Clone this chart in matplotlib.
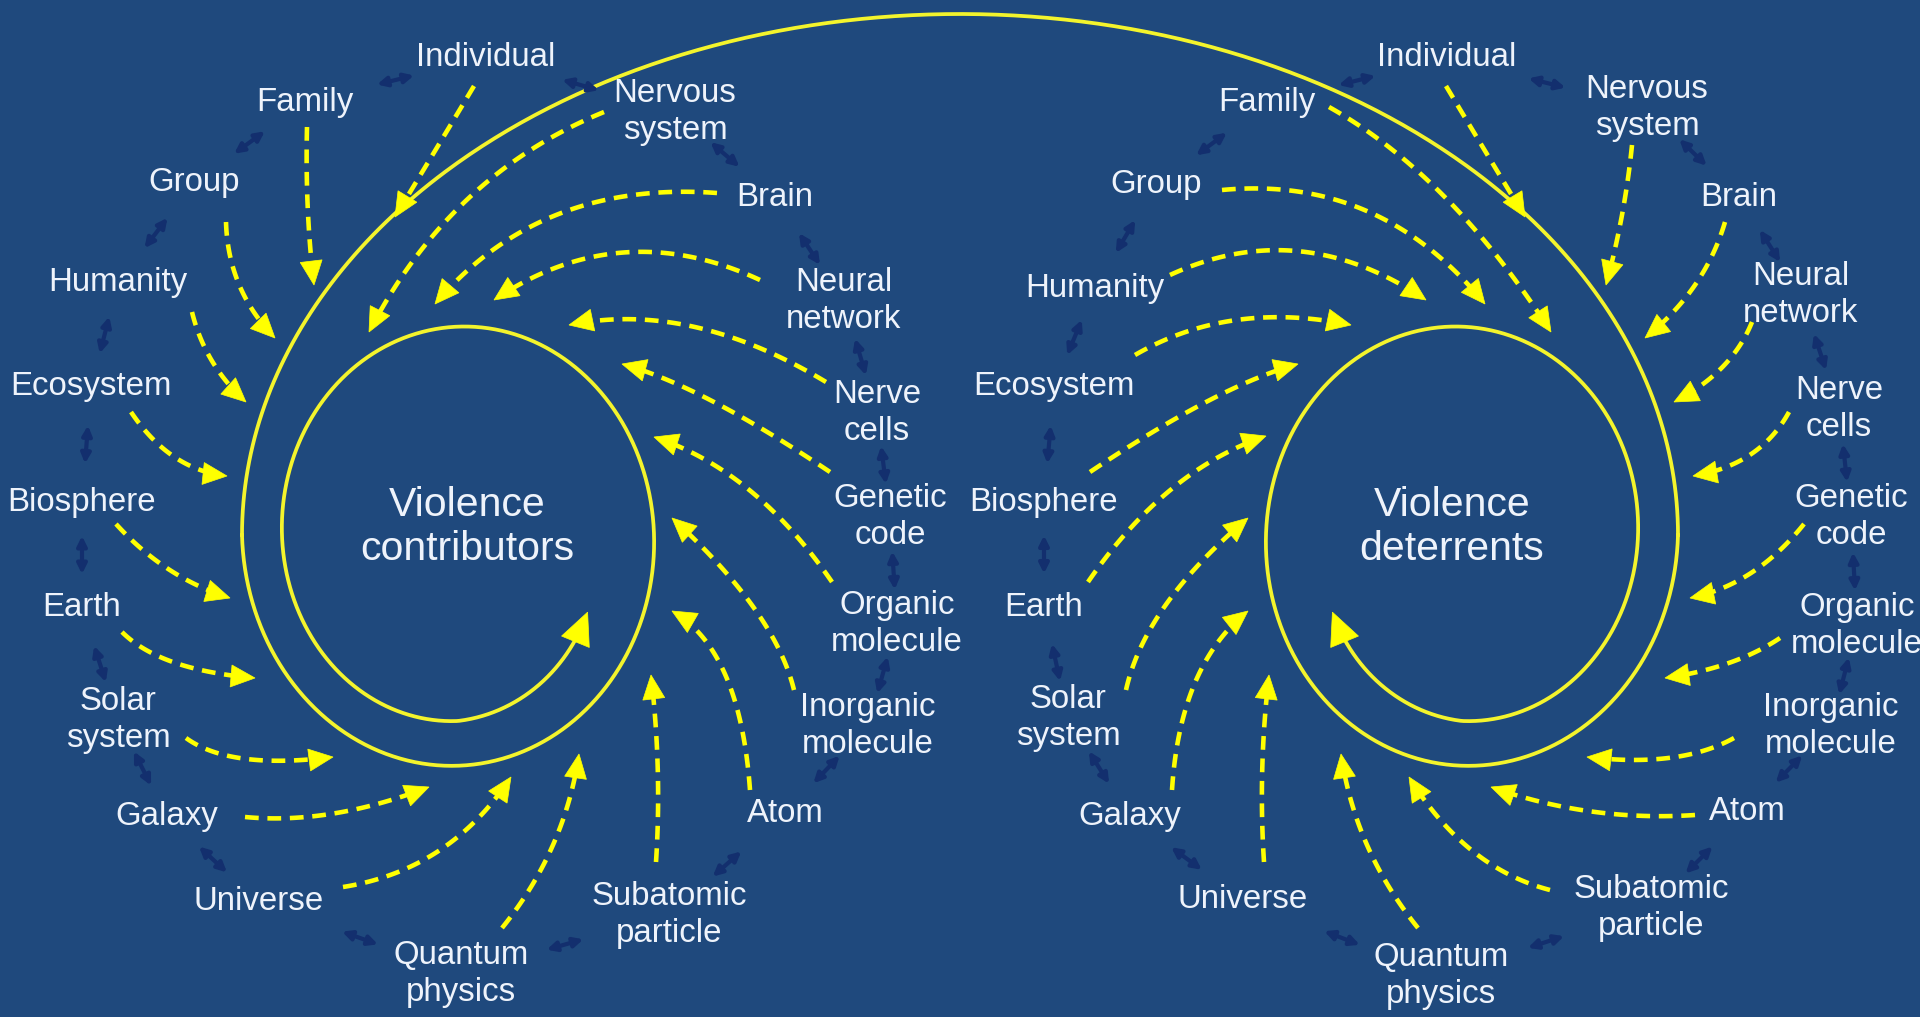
"""Two spirals of scales feeding 'Violence contributors' and 'Violence deterrents'."""

import numpy as np
import matplotlib

matplotlib.use("Agg")
import matplotlib.pyplot as plt
from matplotlib.patches import Polygon

W, H = 1920, 1017
BG = "#1f497d"
YELLOW = "#ffff00"
RING = "#f4f42c"
TEXT = "#eef3fb"
LINK = "#132f6e"

# ---- data -------------------------------------------------------------
names = ["Individual", "Nervous\nsystem", "Brain", "Neural\nnetwork", "Nerve\ncells",
         "Genetic\ncode", "Organic\nmolecule", "Inorganic\nmolecule", "Atom",
         "Subatomic\nparticle", "Quantum\nphysics", "Universe", "Galaxy", "Solar\nsystem",
         "Earth", "Biosphere", "Ecosystem", "Humanity", "Group", "Family"]

left_x = [486, 675, 775, 844, 877, 890, 897, 868, 785, 669, 461, 259, 167, 118, 82, 82, 91, 118, 194, 305]
left_y = [58, 112, 197, 301, 413, 517, 624, 726, 813, 915, 974, 902, 817, 720, 608, 502, 387, 283, 183, 102]
right_x = [1447, 1647, 1739, 1801, 1839, 1851, 1857, 1831, 1747, 1651, 1441, 1243, 1130, 1068, 1044, 1044, 1054, 1095, 1156, 1267]
right_y = [58, 108, 197, 295, 409, 517, 626, 726, 812, 908, 976, 900, 817, 718, 607, 502, 387, 288, 185, 103]

centre_titles = ["Violence\ncontributors", "Violence\ndeterrents"]
centre_xy = [(467, 527), (1452, 527)]

# dashed feeder arrows: start near label, bezier control, tip on the ring
left_start = [(474, 86), (604, 112), (717, 193), (760, 280), (826, 382), (830, 472), (832, 582),
              (794, 690), (750, 790), (656, 862), (502, 928), (343, 887), (245, 817), (186, 738),
              (122, 632), (116, 524), (131, 412), (192, 312), (226, 222), (307, 127)]
left_ctrl = [(435, 151), (450, 175), (540, 180), (620, 215), (690, 300), (700, 385), (755, 470),
             (775, 612), (740, 650), (662, 770), (565, 850), (450, 870), (330, 825), (230, 770),
             (160, 670), (165, 578), (170, 470), (205, 365), (228, 290), (305, 210)]
left_tip = [(395, 217), (369, 332), (435, 304), (494, 300), (569, 325), (622, 364), (654, 437),
            (672, 518), (672, 611), (651, 675), (579, 754), (511, 777), (429, 787), (333, 757),
            (255, 678), (230, 598), (227, 476), (246, 402), (275, 338), (314, 285)]

right_start = [(1446, 86), (1632, 145), (1725, 222), (1752, 322), (1789, 412), (1804, 524), (1780, 638),
               (1734, 738), (1695, 815), (1550, 890), (1418, 928), (1264, 862), (1172, 790), (1126, 690),
               (1088, 582), (1090, 472), (1135, 355), (1170, 275), (1222, 190), (1329, 107)]
right_ctrl = [(1485, 151), (1625, 215), (1705, 290), (1732, 372), (1760, 465), (1755, 585), (1735, 668),
              (1680, 768), (1590, 822), (1465, 868), (1355, 850), (1258, 770), (1180, 665), (1145, 605),
              (1165, 470), (1220, 385), (1230, 300), (1300, 215), (1380, 175), (1450, 175)]
right_tip = [(1525, 217), (1606, 285), (1645, 338), (1674, 402), (1693, 476), (1690, 598), (1665, 678),
             (1587, 757), (1491, 787), (1409, 777), (1341, 754), (1269, 675), (1248, 611), (1248, 518),
             (1266, 436), (1298, 364), (1351, 325), (1426, 300), (1485, 304), (1551, 332)]

# ring geometry
AXIS_X = 960
ARC_A, ARC_B, ARC_CY = 718, 521, 535
SPIRAL_CX = 458
SPIRAL_R0, SPIRAL_K, SPIRAL_YS = 216, 0.111, 1.12


def arrow_head(ax, tip, direction, length, half_width, color=YELLOW):
    u = np.asarray(direction, dtype=float)
    u = u / np.hypot(*u)
    n = np.array([-u[1], u[0]])
    tip = np.asarray(tip, dtype=float)
    base = tip - length * u
    tri = [tip, base + half_width * n, base - half_width * n]
    ax.add_patch(Polygon(tri, closed=True, facecolor=color, edgecolor=color, lw=0.5, zorder=4))


def dashed_arrow(ax, p0, c, p1):
    p0, c, p1 = (np.asarray(p, dtype=float) for p in (p0, c, p1))
    t = np.linspace(0, 1, 80)[:, None]
    pts = (1 - t) ** 2 * p0 + 2 * (1 - t) * t * c + t ** 2 * p1
    keep = np.hypot(*(pts - p1).T) > 18
    ax.plot(pts[keep, 0], pts[keep, 1], color=YELLOW, lw=3.3,
            linestyle=(0, (3.0, 1.9)), dash_capstyle="butt", zorder=3)
    arrow_head(ax, p1, p1 - c, 24, 11)


def spiral_points(mirror):
    theta = np.deg2rad(np.linspace(180, 692, 500))
    deg = np.rad2deg(theta)
    r = SPIRAL_R0 - SPIRAL_K * (deg - 180) - 0.2 * np.clip(deg - 630, 0, None)
    x = SPIRAL_CX + r * np.cos(theta)
    y = ARC_CY - SPIRAL_YS * r * np.sin(theta)
    if mirror:
        x = 2 * AXIS_X - x
    return x, y


fig = plt.figure(figsize=(W / 100, H / 100), dpi=100, facecolor=BG)
ax = fig.add_axes([0, 0, 1, 1])
ax.set_facecolor(BG)
ax.set_xlim(0, W)
ax.set_ylim(H, 0)
ax.axis("off")

plt.rcParams["font.family"] = ["Liberation Sans", "DejaVu Sans"]

# big connecting arc
phi = np.deg2rad(np.linspace(0, 180, 400))
ax.plot(AXIS_X + ARC_A * np.cos(phi), ARC_CY - ARC_B * np.sin(phi), color=RING, lw=2.7, zorder=2)

# spirals and their closing arrowheads
for mirror in (False, True):
    sx, sy = spiral_points(mirror)
    ax.plot(sx[:-6], sy[:-6], color=RING, lw=2.7, zorder=2)
    arrow_head(ax, (sx[-1], sy[-1]), (sx[-1] - sx[-8], sy[-1] - sy[-8]), 32, 15)

# feeder arrows
for starts, ctrls, tips in ((left_start, left_ctrl, left_tip), (right_start, right_ctrl, right_tip)):
    for p0, c, p1 in zip(starts, ctrls, tips):
        dashed_arrow(ax, p0, c, p1)

# small double arrows linking neighbouring scales
for xs, ys in ((left_x, left_y), (right_x, right_y)):
    n = len(xs)
    for i in range(n):
        a = np.array([xs[i], ys[i]], dtype=float)
        b = np.array([xs[(i + 1) % n], ys[(i + 1) % n]], dtype=float)
        mid = (a + b) / 2
        u = (b - a) / np.hypot(*(b - a))
        ax.annotate("", xy=mid + 19 * u, xytext=mid - 19 * u,
                    arrowprops=dict(arrowstyle="<|-|>", color=LINK, lw=3.0,
                                    mutation_scale=14, shrinkA=0, shrinkB=0), zorder=3)

# scale labels
for xs, ys in ((left_x, left_y), (right_x, right_y)):
    for name, x, y in zip(names, xs, ys):
        ax.text(x, y, name, color=TEXT, fontsize=23.8, ha="center", va="center",
                multialignment="center", linespacing=1.28, zorder=5)

for title, (x, y) in zip(centre_titles, centre_xy):
    ax.text(x, y, title, color=TEXT, fontsize=29.5, ha="center", va="center",
            multialignment="center", linespacing=1.2, zorder=5)

fig.savefig("out.png", dpi=100, facecolor=BG)
